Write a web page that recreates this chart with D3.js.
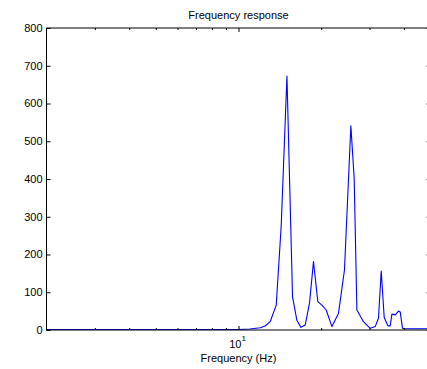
<!DOCTYPE html>
<html>
<head>
<meta charset="utf-8">
<script src="https://cdn.jsdelivr.net/npm/d3@7"></script>
<style>
  body { margin: 0; background: #fff; }
  svg { display: block; }
</style>
</head>
<body>
<div id="chart-container"></div>
<script>
// Dữ liệu đáp ứng tần số
const freqs = [2, 3, 4, 5, 6, 7, 8, 9, 10, 11, 12, 12.5, 13.04, 13.72, 14.3, 15.01, 15.73, 16.32,
  16.88, 17.49, 18.14, 18.75, 19.45, 20.12, 20.86, 21.88, 23.12, 24.31, 25.65, 26.37, 26.98,
  28.51, 30.16, 31.45, 32.33, 33.08, 33.92, 34.99, 35.67, 36.18, 37.2, 38.24, 38.79, 39.54,
  40.45, 44, 50];
const magnitudes = [1.5, 1.5, 1.5, 1.5, 1.5, 1.5, 1.5, 1.5, 1.5, 2.5, 6, 10.5, 22, 66, 274, 673, 88, 25,
  7, 13, 72, 181, 75, 66, 53, 9, 44, 159, 541, 402, 53,
  22, 4.5, 9, 31, 156, 33, 11, 11, 42, 40, 50, 48, 4.5,
  3.5, 3.5, 3.5];
const yTicks = [0, 100, 200, 300, 400, 500, 600, 700, 800];
const xMajorTicks = [10];
const xMinorTicks = [3, 4, 5, 6, 7, 8, 9, 20, 30, 40];

const width = 427;
const height = 369;
const plot = { left: 46.5, right: 430.5, top: 28, bottom: 330 };

const svg = d3.select("#chart-container")
  .append("svg")
  .attr("width", width)
  .attr("height", height)
  .style("font-family", "Arial, 'Liberation Sans', sans-serif");

// Thang log cho trục x
const xScale = d3.scaleLog()
  .domain([2, 50])
  .range([plot.left, plot.right]);

const yScale = d3.scaleLinear()
  .domain([0, 800])
  .range([plot.bottom, plot.top]);

// Đường đáp ứng
const line = d3.line()
  .x((d, i) => xScale(freqs[i]))
  .y(d => yScale(d));

svg.append("path")
  .datum(magnitudes)
  .attr("fill", "none")
  .attr("stroke", "#0000ff")
  .attr("stroke-width", 1.1)
  .attr("stroke-linejoin", "round")
  .attr("d", line);

// Khung trục
svg.append("rect")
  .attr("x", plot.left)
  .attr("y", plot.top)
  .attr("width", plot.right - plot.left)
  .attr("height", plot.bottom - plot.top)
  .attr("fill", "none")
  .attr("stroke", "#000")
  .attr("stroke-width", 1);

// Vạch chia trục y (hướng vào trong, cả hai bên)
const yAxisLeft = d3.axisRight(yScale).tickValues(yTicks).tickSize(4).tickFormat("");
svg.append("g").attr("transform", `translate(${plot.left},0)`).call(yAxisLeft);
const yAxisRight = d3.axisLeft(yScale).tickValues(yTicks).tickSize(4).tickFormat("");
svg.append("g").attr("transform", `translate(${plot.right},0)`).call(yAxisRight);

// Nhãn trục y
svg.selectAll(".ylab")
  .data(yTicks)
  .join("text")
  .attr("x", plot.left - 4)
  .attr("y", d => yScale(d))
  .attr("dy", "0.35em")
  .attr("text-anchor", "end")
  .style("font-size", "11px")
  .text(d => d);

// Vạch chia trục x (trên và dưới)
[[d3.axisTop, plot.bottom], [d3.axisBottom, plot.top]].forEach(([ax, y]) => {
  svg.append("g").attr("transform", `translate(0,${y})`)
    .call(ax(xScale).tickValues(xMinorTicks).tickSize(2).tickFormat(""));
  svg.append("g").attr("transform", `translate(0,${y})`)
    .call(ax(xScale).tickValues(xMajorTicks).tickSize(4).tickFormat(""));
});

// Ẩn đường domain, vạch màu đen
svg.selectAll(".domain").remove();
svg.selectAll(".tick line").attr("stroke", "#000");

// Nhãn 10^1
const xl = svg.selectAll(".xlab")
  .data(xMajorTicks)
  .join("text")
  .attr("x", d => xScale(d) - 1)
  .attr("y", 348)
  .attr("text-anchor", "middle")
  .style("font-size", "11px");
xl.append("tspan").text("10");
xl.append("tspan")
  .attr("dy", -7)
  .style("font-size", "8px")
  .text(d => Math.log10(d));

// Tiêu đề trục x
svg.append("text")
  .attr("x", (plot.left + plot.right) / 2)
  .attr("y", 362)
  .attr("text-anchor", "middle")
  .style("font-size", "11px")
  .text("Frequency (Hz)");

// Tiêu đề
svg.append("text")
  .attr("x", (plot.left + plot.right) / 2)
  .attr("y", 18.5)
  .attr("text-anchor", "middle")
  .style("font-size", "11px")
  .text("Frequency response");
</script>
</body>
</html>
